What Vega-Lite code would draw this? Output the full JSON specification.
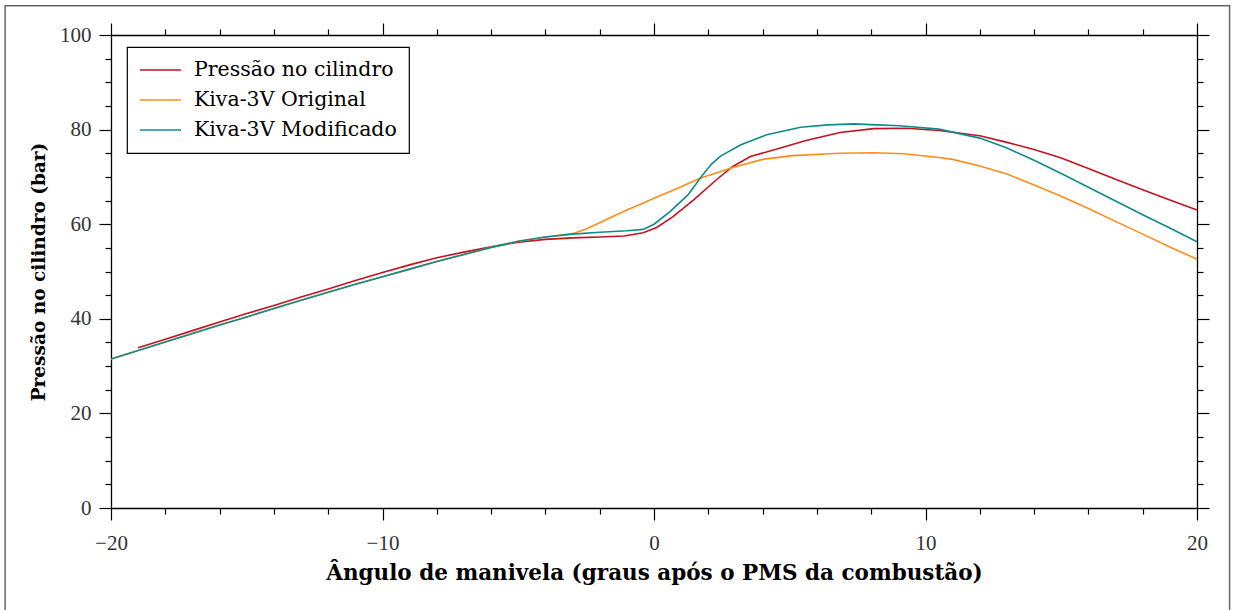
{
  "$schema": "https://vega.github.io/schema/vega-lite/v6.json",
  "width": 1086,
  "height": 473,
  "autosize": {"type": "none"},
  "padding": {"left": 111, "top": 35, "right": 38, "bottom": 102},
  "background": "white",
  "config": {
    "view": {"stroke": null},
    "font": "Liberation Serif",
    "legend": {"strokeWidth": 1.2},
    "axis": {
      "grid": false,
      "domainColor": "black",
      "domainWidth": 1.3,
      "tickColor": "black",
      "tickWidth": 1.2,
      "labelFont": "Liberation Serif",
      "labelFontSize": 21,
      "labelColor": "#333333",
      "labelFlush": false,
      "labelOverlap": false,
      "labelBound": false,
      "titleFont": "DejaVu Serif",
      "titleFontSize": 19,
      "titleFontWeight": "bold",
      "titleColor": "black"
    }
  },
  "datasets": {
    "pressao": [
      {"serie": "Pressão no cilindro", "angulo": -19.0, "pressao": 33.9},
      {"serie": "Pressão no cilindro", "angulo": -18, "pressao": 35.7},
      {"serie": "Pressão no cilindro", "angulo": -17, "pressao": 37.5},
      {"serie": "Pressão no cilindro", "angulo": -16, "pressao": 39.3},
      {"serie": "Pressão no cilindro", "angulo": -15, "pressao": 41.1},
      {"serie": "Pressão no cilindro", "angulo": -14, "pressao": 42.8},
      {"serie": "Pressão no cilindro", "angulo": -13, "pressao": 44.6},
      {"serie": "Pressão no cilindro", "angulo": -12, "pressao": 46.3},
      {"serie": "Pressão no cilindro", "angulo": -11, "pressao": 48.1},
      {"serie": "Pressão no cilindro", "angulo": -10, "pressao": 49.8},
      {"serie": "Pressão no cilindro", "angulo": -9, "pressao": 51.4},
      {"serie": "Pressão no cilindro", "angulo": -8, "pressao": 52.9},
      {"serie": "Pressão no cilindro", "angulo": -7, "pressao": 54.1},
      {"serie": "Pressão no cilindro", "angulo": -6, "pressao": 55.2},
      {"serie": "Pressão no cilindro", "angulo": -5, "pressao": 56.2},
      {"serie": "Pressão no cilindro", "angulo": -4, "pressao": 56.8},
      {"serie": "Pressão no cilindro", "angulo": -3, "pressao": 57.1},
      {"serie": "Pressão no cilindro", "angulo": -2, "pressao": 57.3},
      {"serie": "Pressão no cilindro", "angulo": -1.1, "pressao": 57.5},
      {"serie": "Pressão no cilindro", "angulo": -0.4, "pressao": 58.2},
      {"serie": "Pressão no cilindro", "angulo": 0.1, "pressao": 59.3},
      {"serie": "Pressão no cilindro", "angulo": 0.7, "pressao": 61.6},
      {"serie": "Pressão no cilindro", "angulo": 1.45, "pressao": 65.1},
      {"serie": "Pressão no cilindro", "angulo": 2.3, "pressao": 69.4},
      {"serie": "Pressão no cilindro", "angulo": 2.9, "pressao": 72.2},
      {"serie": "Pressão no cilindro", "angulo": 3.55, "pressao": 74.3},
      {"serie": "Pressão no cilindro", "angulo": 4.4, "pressao": 75.7},
      {"serie": "Pressão no cilindro", "angulo": 5.6, "pressao": 77.7},
      {"serie": "Pressão no cilindro", "angulo": 6.85, "pressao": 79.4},
      {"serie": "Pressão no cilindro", "angulo": 8.1, "pressao": 80.2},
      {"serie": "Pressão no cilindro", "angulo": 9.3, "pressao": 80.3},
      {"serie": "Pressão no cilindro", "angulo": 10.5, "pressao": 79.8},
      {"serie": "Pressão no cilindro", "angulo": 12, "pressao": 78.7},
      {"serie": "Pressão no cilindro", "angulo": 13, "pressao": 77.3},
      {"serie": "Pressão no cilindro", "angulo": 14, "pressao": 75.8},
      {"serie": "Pressão no cilindro", "angulo": 15, "pressao": 74.0},
      {"serie": "Pressão no cilindro", "angulo": 16, "pressao": 71.8},
      {"serie": "Pressão no cilindro", "angulo": 17, "pressao": 69.5},
      {"serie": "Pressão no cilindro", "angulo": 18, "pressao": 67.3},
      {"serie": "Pressão no cilindro", "angulo": 19, "pressao": 65.1},
      {"serie": "Pressão no cilindro", "angulo": 20, "pressao": 63.0},

      {"serie": "Kiva-3V Original", "angulo": -20, "pressao": 31.5},
      {"serie": "Kiva-3V Original", "angulo": -19, "pressao": 33.3},
      {"serie": "Kiva-3V Original", "angulo": -18, "pressao": 35.1},
      {"serie": "Kiva-3V Original", "angulo": -17, "pressao": 36.9},
      {"serie": "Kiva-3V Original", "angulo": -16, "pressao": 38.7},
      {"serie": "Kiva-3V Original", "angulo": -15, "pressao": 40.4},
      {"serie": "Kiva-3V Original", "angulo": -14, "pressao": 42.2},
      {"serie": "Kiva-3V Original", "angulo": -13, "pressao": 43.9},
      {"serie": "Kiva-3V Original", "angulo": -12, "pressao": 45.6},
      {"serie": "Kiva-3V Original", "angulo": -11, "pressao": 47.3},
      {"serie": "Kiva-3V Original", "angulo": -10, "pressao": 48.9},
      {"serie": "Kiva-3V Original", "angulo": -9, "pressao": 50.5},
      {"serie": "Kiva-3V Original", "angulo": -8, "pressao": 52.1},
      {"serie": "Kiva-3V Original", "angulo": -7, "pressao": 53.6},
      {"serie": "Kiva-3V Original", "angulo": -6, "pressao": 55.1},
      {"serie": "Kiva-3V Original", "angulo": -5, "pressao": 56.4},
      {"serie": "Kiva-3V Original", "angulo": -4, "pressao": 57.3},
      {"serie": "Kiva-3V Original", "angulo": -3, "pressao": 58.0},
      {"serie": "Kiva-3V Original", "angulo": -2.5, "pressao": 59.0},
      {"serie": "Kiva-3V Original", "angulo": -2, "pressao": 60.3},
      {"serie": "Kiva-3V Original", "angulo": -1.5, "pressao": 61.7},
      {"serie": "Kiva-3V Original", "angulo": -1, "pressao": 63.0},
      {"serie": "Kiva-3V Original", "angulo": -0.5, "pressao": 64.2},
      {"serie": "Kiva-3V Original", "angulo": 0, "pressao": 65.5},
      {"serie": "Kiva-3V Original", "angulo": 0.7, "pressao": 67.2},
      {"serie": "Kiva-3V Original", "angulo": 1.7, "pressao": 69.7},
      {"serie": "Kiva-3V Original", "angulo": 2.9, "pressao": 72.0},
      {"serie": "Kiva-3V Original", "angulo": 4.0, "pressao": 73.7},
      {"serie": "Kiva-3V Original", "angulo": 5.1, "pressao": 74.5},
      {"serie": "Kiva-3V Original", "angulo": 6.85, "pressao": 75.0},
      {"serie": "Kiva-3V Original", "angulo": 8.1, "pressao": 75.1},
      {"serie": "Kiva-3V Original", "angulo": 9.2, "pressao": 74.9},
      {"serie": "Kiva-3V Original", "angulo": 10.5, "pressao": 74.1},
      {"serie": "Kiva-3V Original", "angulo": 11, "pressao": 73.7},
      {"serie": "Kiva-3V Original", "angulo": 12, "pressao": 72.3},
      {"serie": "Kiva-3V Original", "angulo": 13, "pressao": 70.6},
      {"serie": "Kiva-3V Original", "angulo": 14, "pressao": 68.3},
      {"serie": "Kiva-3V Original", "angulo": 15, "pressao": 65.9},
      {"serie": "Kiva-3V Original", "angulo": 16, "pressao": 63.3},
      {"serie": "Kiva-3V Original", "angulo": 17, "pressao": 60.6},
      {"serie": "Kiva-3V Original", "angulo": 18, "pressao": 57.9},
      {"serie": "Kiva-3V Original", "angulo": 19, "pressao": 55.2},
      {"serie": "Kiva-3V Original", "angulo": 20, "pressao": 52.6},

      {"serie": "Kiva-3V Modificado", "angulo": -20, "pressao": 31.5},
      {"serie": "Kiva-3V Modificado", "angulo": -19, "pressao": 33.3},
      {"serie": "Kiva-3V Modificado", "angulo": -18, "pressao": 35.1},
      {"serie": "Kiva-3V Modificado", "angulo": -17, "pressao": 36.9},
      {"serie": "Kiva-3V Modificado", "angulo": -16, "pressao": 38.7},
      {"serie": "Kiva-3V Modificado", "angulo": -15, "pressao": 40.4},
      {"serie": "Kiva-3V Modificado", "angulo": -14, "pressao": 42.2},
      {"serie": "Kiva-3V Modificado", "angulo": -13, "pressao": 43.9},
      {"serie": "Kiva-3V Modificado", "angulo": -12, "pressao": 45.6},
      {"serie": "Kiva-3V Modificado", "angulo": -11, "pressao": 47.3},
      {"serie": "Kiva-3V Modificado", "angulo": -10, "pressao": 48.9},
      {"serie": "Kiva-3V Modificado", "angulo": -9, "pressao": 50.5},
      {"serie": "Kiva-3V Modificado", "angulo": -8, "pressao": 52.1},
      {"serie": "Kiva-3V Modificado", "angulo": -7, "pressao": 53.6},
      {"serie": "Kiva-3V Modificado", "angulo": -6, "pressao": 55.1},
      {"serie": "Kiva-3V Modificado", "angulo": -5, "pressao": 56.4},
      {"serie": "Kiva-3V Modificado", "angulo": -4, "pressao": 57.3},
      {"serie": "Kiva-3V Modificado", "angulo": -3, "pressao": 57.9},
      {"serie": "Kiva-3V Modificado", "angulo": -2, "pressao": 58.3},
      {"serie": "Kiva-3V Modificado", "angulo": -1, "pressao": 58.6},
      {"serie": "Kiva-3V Modificado", "angulo": -0.4, "pressao": 58.9},
      {"serie": "Kiva-3V Modificado", "angulo": 0, "pressao": 60.0},
      {"serie": "Kiva-3V Modificado", "angulo": 0.6, "pressao": 62.7},
      {"serie": "Kiva-3V Modificado", "angulo": 1.25, "pressao": 66.2},
      {"serie": "Kiva-3V Modificado", "angulo": 1.75, "pressao": 70.1},
      {"serie": "Kiva-3V Modificado", "angulo": 2.1, "pressao": 72.6},
      {"serie": "Kiva-3V Modificado", "angulo": 2.45, "pressao": 74.4},
      {"serie": "Kiva-3V Modificado", "angulo": 3.2, "pressao": 76.8},
      {"serie": "Kiva-3V Modificado", "angulo": 4.15, "pressao": 78.9},
      {"serie": "Kiva-3V Modificado", "angulo": 5.4, "pressao": 80.5},
      {"serie": "Kiva-3V Modificado", "angulo": 6.4, "pressao": 81.0},
      {"serie": "Kiva-3V Modificado", "angulo": 7.35, "pressao": 81.2},
      {"serie": "Kiva-3V Modificado", "angulo": 8.2, "pressao": 81.0},
      {"serie": "Kiva-3V Modificado", "angulo": 9.05, "pressao": 80.8},
      {"serie": "Kiva-3V Modificado", "angulo": 10.5, "pressao": 80.1},
      {"serie": "Kiva-3V Modificado", "angulo": 12, "pressao": 78.2},
      {"serie": "Kiva-3V Modificado", "angulo": 13, "pressao": 76.1},
      {"serie": "Kiva-3V Modificado", "angulo": 14, "pressao": 73.5},
      {"serie": "Kiva-3V Modificado", "angulo": 15, "pressao": 70.7},
      {"serie": "Kiva-3V Modificado", "angulo": 16, "pressao": 67.8},
      {"serie": "Kiva-3V Modificado", "angulo": 17, "pressao": 64.9},
      {"serie": "Kiva-3V Modificado", "angulo": 18, "pressao": 62.0},
      {"serie": "Kiva-3V Modificado", "angulo": 19, "pressao": 59.2},
      {"serie": "Kiva-3V Modificado", "angulo": 20, "pressao": 56.3}
    ]
  },
  "layer": [
    {
      "description": "Outer figure frame plus the mirrored top and right axes",
      "data": {"values": [{}]},
      "mark": {"type": "rect", "fill": null, "stroke": "#666666", "strokeWidth": 1.5},
      "encoding": {
        "x": {
          "datum": -23.9,
          "type": "quantitative",
          "scale": {"domain": [-20, 20], "nice": false, "zero": false},
          "axis": {
            "orient": "top",
            "title": null,
            "labels": false,
            "values": [-20, -18, -16, -14, -12, -10, -8, -6, -4, -2, 0, 2, 4, 6, 8, 10, 12, 14, 16, 18, 20],
            "tickSize": {"condition": {"test": "datum.value % 10 === 0", "value": 12}, "value": 6}
          }
        },
        "x2": {"datum": 21.2},
        "y": {
          "datum": 106.2,
          "type": "quantitative",
          "scale": {"domain": [0, 100], "nice": false, "zero": false},
          "axis": {
            "orient": "right",
            "title": null,
            "labels": false,
            "values": [0, 5, 10, 15, 20, 25, 30, 35, 40, 45, 50, 55, 60, 65, 70, 75, 80, 85, 90, 95, 100],
            "tickSize": {"condition": {"test": "datum.value % 20 === 0", "value": 12}, "value": 6}
          }
        },
        "y2": {"datum": -30}
      }
    },
    {
      "data": {"name": "pressao"},
      "mark": {"type": "line", "strokeWidth": 1.6, "interpolate": "linear"},
      "encoding": {
        "x": {
          "field": "angulo",
          "type": "quantitative",
          "axis": {
            "orient": "bottom",
            "title": "Ângulo de manivela (graus após o PMS da combustão)",
            "titleFontSize": 21.5,
            "titlePadding": 9,
            "labelPadding": 12,
            "values": [-20, -18, -16, -14, -12, -10, -8, -6, -4, -2, 0, 2, 4, 6, 8, 10, 12, 14, 16, 18, 20],
            "tickSize": {"condition": {"test": "datum.value % 10 === 0", "value": 12}, "value": 6},
            "labelExpr": "datum.value % 10 === 0 ? datum.label : ''"
          }
        },
        "y": {
          "field": "pressao",
          "type": "quantitative",
          "axis": {
            "orient": "left",
            "title": "Pressão no cilindro (bar)",
            "titleFontSize": 18.5,
            "titlePadding": 11,
            "labelPadding": 8,
            "values": [0, 5, 10, 15, 20, 25, 30, 35, 40, 45, 50, 55, 60, 65, 70, 75, 80, 85, 90, 95, 100],
            "tickSize": {"condition": {"test": "datum.value % 20 === 0", "value": 12}, "value": 6},
            "labelExpr": "datum.value % 20 === 0 ? datum.label : ''"
          }
        },
        "color": {
          "field": "serie",
          "type": "nominal",
          "sort": ["Pressão no cilindro", "Kiva-3V Original", "Kiva-3V Modificado"],
          "scale": {
            "domain": ["Pressão no cilindro", "Kiva-3V Original", "Kiva-3V Modificado"],
            "range": ["#c4121f", "#ff8c1a", "#0f8b8b"]
          },
          "legend": {
            "orient": "none",
            "legendX": 16,
            "legendY": 12,
            "title": null,
            "strokeColor": "black",
            "fillColor": "white",
            "padding": 12,
            "cornerRadius": 0,
            "symbolType": "M-1,0H3.1",
            "symbolSize": 400,
            "symbolStrokeWidth": 1.6,
            "labelFont": "DejaVu Serif",
            "labelFontSize": 20.5,
            "labelLimit": 0,
            "labelColor": "black",
            "labelOffset": 33,
            "rowPadding": 8
          }
        }
      }
    }
  ],
  "resolve": {"axis": {"x": "independent", "y": "independent"}}
}
